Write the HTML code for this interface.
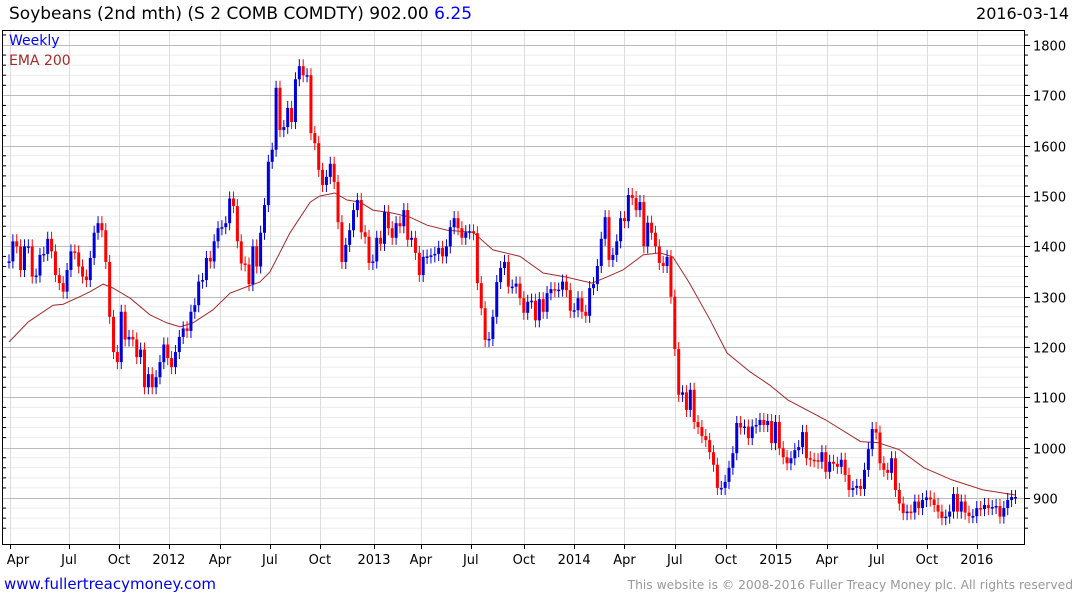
<!DOCTYPE html>
<html><head><meta charset="utf-8">
<style>
html,body{margin:0;padding:0;background:#fff;width:1075px;height:600px;overflow:hidden;font-family:"DejaVu Sans","Liberation Sans",sans-serif;}
#title{position:absolute;left:9px;top:4px;font-size:17px;color:#000;white-space:nowrap;}
#date{position:absolute;right:6px;top:4px;font-size:16px;color:#000;}
#site{position:absolute;left:4px;top:575px;font-size:15px;color:#0000ee;}
#copy{position:absolute;right:2px;top:578px;font-size:12.3px;color:#999;white-space:nowrap;}
svg{position:absolute;left:0;top:0;}
</style></head><body>
<div id="title">Soybeans (2nd mth) (S 2 COMB COMDTY) 902.00 <span style="color:#0000ff">6.25</span></div>
<div id="date">2016-03-14</div>
<div id="site">www.fullertreacymoney.com</div>
<div id="copy">This website is © 2008-2016 Fuller Treacy Money plc. All rights reserved</div>
<svg id="chart" width="1075" height="600"></svg>
<script>
const closes=[1370,1410,1400,1353,1400,1400,1340,1342,1383,1385,1415,1390,1343,1327,1310,1353,1390,1388,1360,1340,
1333,1377,1427,1446,1432,1369,1260,1190,1170,1270,1215,1220,1215,1180,1195,1120,1146,1120,1140,1170,
1205,1178,1160,1190,1220,1237,1232,1270,1283,1330,1333,1377,1370,1410,1436,1438,1446,1495,1480,1410,
1366,1364,1325,1400,1360,1427,1482,1568,1592,1715,1631,1637,1675,1647,1732,1758,1740,1740,1625,1605,
1552,1522,1538,1564,1528,1448,1369,1403,1432,1472,1492,1428,1419,1367,1370,1417,1405,1468,1436,1417,
1446,1440,1472,1413,1417,1387,1343,1379,1380,1382,1385,1397,1380,1400,1438,1456,1436,1417,1428,1430,
1426,1327,1277,1214,1216,1260,1329,1357,1369,1320,1320,1326,1297,1268,1290,1292,1253,1295,1270,1307,
1315,1313,1314,1330,1313,1272,1273,1297,1270,1262,1317,1325,1361,1415,1458,1373,1383,1410,1456,1450,
1502,1496,1472,1488,1400,1447,1427,1400,1367,1361,1379,1300,1196,1105,1110,1075,1115,1051,1041,1023,
1015,991,966,920,920,932,960,989,1049,1040,1042,1019,1042,1045,1055,1045,1053,1009,1051,999,
981,969,979,995,1001,1031,979,976,975,972,991,952,972,968,962,976,946,916,920,924,
918,956,997,1037,1030,969,956,950,979,916,889,870,873,871,893,880,896,901,897,886,
873,860,863,873,908,873,893,871,864,864,880,878,886,880,882,884,863,880,896,902,902];
const emaWeeks=[0,5,11.4,14,18.3,21,24.3,26.9,31.3,36.4,40.8,44.2,47.5,52.7,57.1,61.5,64.8,67.4,
72.6,77.8,80.3,84.2,87.3,90.7,94,99.2,103.6,108,113.2,119.9,125,132,
138,144,150.6,154.4,158.6,163.8,168.2,171.5,175.8,181.1,185.5,191.4,196.6,
201.2,211,220,224.5,230,236.4,243.6,251.6,260];
const emaValues=[1210,1250,1283,1285,1300,1310,1325,1317,1297,1264,1248,1240,1248,1274,1307,1320,1329,1349,
1427,1488,1500,1506,1492,1488,1472,1466,1458,1442,1432,1428,1393,1380,
1347,1339,1327,1339,1353,1383,1387,1379,1327,1254,1188,1151,1124,
1095,1055,1012,1010,996,960,936,916,906];
const yTicks=[900,1000,1100,1200,1300,1400,1500,1600,1700,1800];
const xTickLabels=["Apr","Jul","Oct","2012","Apr","Jul","Oct","2013","Apr","Jul","Oct","2014","Apr","Jul","Oct","2015","Apr","Jul","Oct","2016"];
const xTickWeeks=[0.26,15.5,28.4,41.3,54.5,67.4,80.3,94.3,106.4,119.3,133,146,159,172,185.2,198.1,211.3,224.2,237.1,250];

const NS="http://www.w3.org/2000/svg";
const svg=document.getElementById('chart');
const L=2,R=1024,T=30,B=544;
function X(i){return 9+i*3.871;}
function Y(v){return 498-(v-900)*0.5033;}
function mk(tag,attrs,parent){const e=document.createElementNS(NS,tag);for(const k in attrs)e.setAttribute(k,attrs[k]);(parent||svg).appendChild(e);return e;}
const grid=mk('g',{});


for(let v=840;v<=1820;v+=20){
  if(v%100===0)continue;
  const y=Y(v); if(y<T||y>B)continue;
  mk('line',{x1:L,x2:R,y1:y,y2:y,stroke:'#ececec','stroke-width':1},grid);
  mk('line',{x1:R,x2:R+4,y1:y,y2:y,stroke:'#000','stroke-width':1},grid);
  mk('line',{x1:L,x2:L+4,y1:y,y2:y,stroke:'#000','stroke-width':1},grid);
}
xTickWeeks.forEach((w,k)=>{
  const x=Math.round(X(w))+0.5;
  mk('line',{x1:x,x2:x,y1:T,y2:B,stroke:'#dddddd','stroke-width':1},grid);
  mk('line',{x1:x,x2:x,y1:B,y2:B+5,stroke:'#000','stroke-width':1},grid);
  const t=mk('text',{x:Math.max(X(w),18),y:B+20,'font-size':13,'text-anchor':'middle',fill:'#000','font-family':'DejaVu Sans, Liberation Sans, sans-serif'});
  t.textContent=xTickLabels[k];
  
  
});
yTicks.forEach(v=>{
  const y=Math.round(Y(v))+0.5;
  mk('line',{x1:L,x2:R,y1:y,y2:y,stroke:'#bbbbbb','stroke-width':1},grid);
  mk('line',{x1:R,x2:R+6,y1:y,y2:y,stroke:'#000','stroke-width':1},grid);
  const t=mk('text',{x:1033,y:y+5,'font-size':13,fill:'#000','font-family':'DejaVu Sans, Liberation Sans, sans-serif'});
  t.textContent=v;
  
  
});
// EMA
let d='';
emaWeeks.forEach((w,k)=>{d+=(k===0?'M':'L')+X(w).toFixed(1)+' '+Y(emaValues[k]).toFixed(1)+' ';});
const ema=mk('path',{d:d,fill:'none',stroke:'#a52a2a','stroke-width':1});


// candles
const cg=mk('g',{});


closes.forEach((c,i)=>{
  const o=i>0?closes[i-1]:c;
  const up=c>=o;
  const col=up?'#0000dd':'#ff0000';
  const x=X(i);
  const hi=Math.max(o,c)+14, lo=Math.min(o,c)-14;
  const g=mk('g',{},cg);
  
  
  mk('line',{x1:x,x2:x,y1:Y(hi),y2:Y(lo),stroke:col,'stroke-width':1},g);
  const yt=Y(Math.max(o,c)), yb=Y(Math.min(o,c));
  mk('rect',{x:x-1.5,y:yt,width:3,height:Math.max(yb-yt,1.5),fill:col},g);
});
const frame=mk('rect',{x:L+0.5,y:T+0.5,width:R-L,height:B-T,fill:'none',stroke:'#000','stroke-width':1});


const lg1=mk('text',{x:9,y:45,'font-size':14,fill:'#0000ff','font-family':'DejaVu Sans, sans-serif'});
lg1.textContent='Weekly';


const lg2=mk('text',{x:9,y:65,'font-size':14,fill:'#a52a2a','font-family':'DejaVu Sans, sans-serif'});
lg2.textContent='EMA 200';


</script>
</body></html>
